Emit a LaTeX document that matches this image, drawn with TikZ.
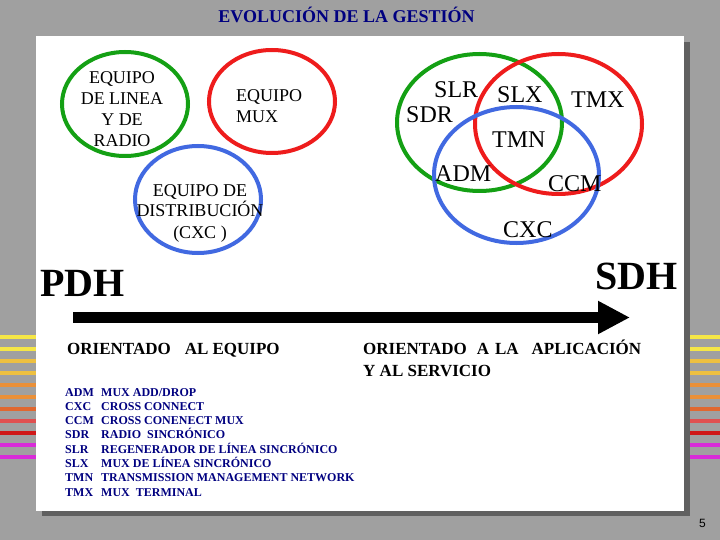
\documentclass[tikz,border=0pt]{standalone}
\usepackage{fontspec}
\setmainfont{Liberation Serif}
\newfontfamily\pagefont{Liberation Sans}
\usepackage{tikz}
\usetikzlibrary{shapes.geometric,arrows.meta}

\definecolor{slidegray}{HTML}{A0A0A0}
\definecolor{shadowgray}{HTML}{606060}
\definecolor{navy}{HTML}{000080}
\definecolor{ringgreen}{HTML}{14A014}
\definecolor{ringred}{HTML}{EE1C1C}
\definecolor{ringblue}{HTML}{4169E1}
\definecolor{barA}{HTML}{F5E646}
\definecolor{barB}{HTML}{EEC040}
\definecolor{barC}{HTML}{EA9038}
\definecolor{barD}{HTML}{E06830}
\definecolor{barE}{HTML}{E05050}
\definecolor{barF}{HTML}{D01818}
\definecolor{barG}{HTML}{D82CD8}

\begin{document}
\begin{tikzpicture} [x=1pt,y=-1pt]
\tikzstyle{ring}=[ellipse,draw,line width=4pt,inner sep=0pt]
\tikzstyle{bubbletext}=[inner sep=0pt,align=center,font=\fontsize{18}{21}\selectfont]
\tikzstyle{venntext}=[inner sep=0pt,anchor=base west,font=\fontsize{24}{28}\selectfont]
\tikzstyle{bigtext}=[inner sep=0pt,font=\bfseries\fontsize{40}{44}\selectfont]
\tikzstyle{orienttext}=[inner sep=0pt,anchor=base west,font=\bfseries\fontsize{17}{22}\selectfont]
\tikzstyle{keytext}=[inner sep=0pt,anchor=base west,text=navy,font=\bfseries\fontsize{12}{14}\selectfont]

% slide background, stripes, panel
\fill[slidegray] (0,0) rectangle (720,540);
\useasboundingbox (0,0) rectangle (720,540);
\foreach \c [count=\i from 0] in {barA,barA,barB,barB,barC,barC,barD,barE,barF,barG,barG}
	\draw[\c,line width=3.5pt] (0,{337+12*\i}) -- (720,{337+12*\i});
\fill[shadowgray] (42,42) rectangle (690,516);
\fill[white] (36,36) rectangle (684,511);

\node at(346.5,23) (title) [anchor=base,inner sep=0pt,text=navy,font=\bfseries\fontsize{18}{22}\selectfont] {EVOLUCIÓN DE LA GESTIÓN};

% PDH side
\node at(125,104) (line) [ring,ringgreen,minimum width=126pt,minimum height=104pt] {};
\node at(272,101.5) (mux) [ring,ringred,minimum width=126pt,minimum height=103pt] {};
\node at(198,199.5) (dist) [ring,ringblue,minimum width=126pt,minimum height=107pt] {};
\node at(122,147) (linetext) [bubbletext,anchor=base] {EQUIPO\\DE LINEA\\Y DE\\RADIO};
\node at(236,123) (muxtext) [bubbletext,anchor=base west,align=left] {EQUIPO\\MUX};
\node at(200,238) (disttext) [bubbletext,anchor=base] {EQUIPO DE\\DISTRIBUCIÓN\\(CXC )};

% SDH side
\node at(479.5,122.5) (G) [ring,ringgreen,minimum width=165pt,minimum height=137pt] {};
\node at(558.5,124) (R) [ring,ringred,minimum width=167pt,minimum height=140pt] {};
\node at(516.5,175) (B) [ring,ringblue,minimum width=165pt,minimum height=136pt] {};
\node at(434,98) (SLR) [venntext] {SLR};
\node at(406,123) (SDR) [venntext] {SDR};
\node at(497,103) (SLX) [venntext] {SLX};
\node at(571,108) (TMX) [venntext] {TMX};
\node at(492,148) (TMN) [venntext] {TMN};
\node at(435,182) (ADM) [venntext] {ADM};
\node at(548,192) (CCM) [venntext] {CCM};
\node at(503,237) (CXC) [venntext] {CXC};

\node at(40,296) (PDH) [bigtext,anchor=base west] {PDH};
\node at(678,289) (SDH) [bigtext,anchor=base east] {SDH};

\coordinate (from) at (73,317.5);
\coordinate (to) at (630,317.5);
\draw[line width=11pt,-{Triangle[length=32pt,width=31pt]}] (from) -- (to);

\node at(67,354) (equipo) [orienttext] {ORIENTADO\hspace{14pt}AL EQUIPO};
\node at(363,376) (servicio) [orienttext,align=left] {ORIENTADO\hspace{10pt}A\hspace{6pt}LA\hspace{13pt}APLICACIÓN\\Y AL SERVICIO};

% abbreviations
\foreach \acr/\expl [count=\i from 0] in {ADM/{MUX ADD/DROP},CXC/{CROSS CONNECT},CCM/{CROSS CONENECT MUX},SDR/{RADIO\ \ SINCRÓNICO},SLR/{REGENERADOR DE LÍNEA SINCRÓNICO},SLX/{MUX DE LÍNEA SINCRÓNICO},TMN/{TRANSMISSION MANAGEMENT NETWORK},TMX/{MUX\ \ TERMINAL}}
{
	\node at(65,{396+14.3*\i}) (acr\i) [keytext] {\acr};
	\node at(101,{396+14.3*\i}) (expl\i) [keytext] {\expl};
}

\node at(699,527) (pagenum) [anchor=base west,inner sep=0pt,font=\pagefont\fontsize{12}{14}\selectfont] {5};
\end{tikzpicture}
\end{document}
